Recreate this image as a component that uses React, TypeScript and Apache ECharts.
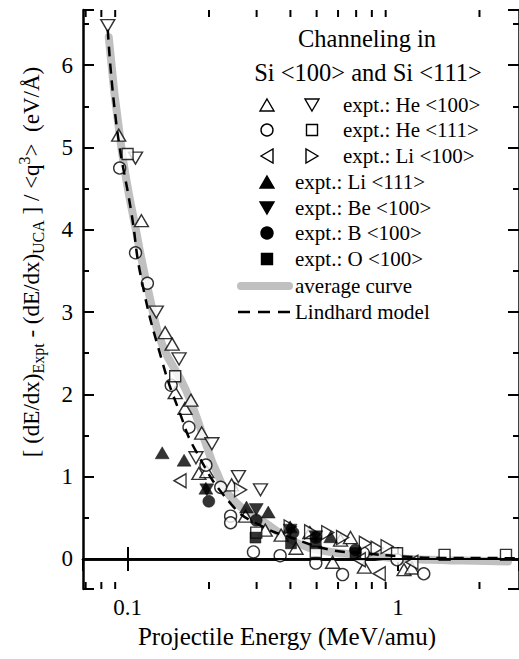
import React, { useEffect, useRef } from 'react';
import * as echarts from 'echarts';

// ---- data (x: MeV/amu, y: eV/Å) ----
const heUp: number[][] = [
  [0.0927, 5.15], [0.1125, 4.11], [0.1377, 2.75], [0.1462, 2.61], [0.150, 2.02],
  [0.163, 1.83], [0.1715, 1.93], [0.188, 1.53], [0.1835, 1.04], [0.1963, 1.06],
  [0.2424, 0.90], [0.2729, 0.52], [0.3228, 0.35], [0.3696, 0.29], [0.4195, 0.13],
  [0.472, 0.32], [0.573, -0.04], [0.613, 0.23], [0.667, 0.26], [0.751, -0.10],
  [1.052, -0.13], [1.125, -0.11],
];
const heDown: number[][] = [
  [0.0845, 6.48], [0.107, 4.87], [0.1277, 3.0], [0.155, 2.43], [0.205, 1.40],
  [0.179, 1.23], [0.257, 1.0], [0.31, 0.84],
];
const he111Circle: number[][] = [
  [0.0935, 4.75], [0.107, 3.72], [0.1184, 3.35], [0.145, 2.11], [0.1687, 1.60],
  [0.1948, 1.14], [0.221, 0.87], [0.2404, 0.52], [0.2404, 0.44], [0.292, 0.085],
  [0.3665, 0.04], [0.4966, -0.05], [0.6235, -0.19], [0.7444, 0.07], [0.9916, -0.01],
  [1.245, -0.18],
];
const he111Square: number[][] = [
  [0.1, 4.92], [0.150, 2.22], [0.299, 0.32], [0.4966, 0.085], [0.9916, 0.07],
  [1.486, 0.05], [2.506, 0.05],
];
const li100Left: number[][] = [
  [0.1563, 0.95], [0.719, -0.01], [0.852, -0.18], [1.125, -0.04],
];
const li100Right: number[][] = [
  [0.2616, 0.84], [0.399, 0.39], [0.475, 0.33], [0.5495, 0.32], [0.6235, 0.26],
  [0.757, 0.19], [0.837, 0.13], [0.911, 0.15],
];
const li111: number[][] = [
  [0.1343, 1.29], [0.1618, 1.20], [0.1948, 0.86], [0.2752, 0.63], [0.3312, 0.57],
  [0.399, 0.39], [0.5636, 0.27],
];
const be100: number[][] = [
  [0.1963, 0.84], [0.299, 0.60], [0.399, 0.35], [0.4966, 0.27],
];
const b100: number[][] = [
  [0.1997, 0.70], [0.299, 0.47], [0.409, 0.32], [0.4966, 0.26], [0.696, 0.11],
];
const o100: number[][] = [
  [0.297, 0.26], [0.402, 0.19], [0.4966, 0.19], [0.696, 0.07],
];
const averageCurve: number[][] = [
  [0.0852, 6.34], [0.0951, 4.97], [0.1079, 3.96], [0.1204, 3.2], [0.1345, 2.6],
  [0.1645, 2.05], [0.1948, 1.40], [0.2118, 1.08], [0.2424, 0.74], [0.3228, 0.44],
  [0.4266, 0.19], [0.5636, 0.085], [0.751, 0.05], [0.9916, 0.01], [1.31, -0.01],
  [1.745, -0.02], [2.55, -0.03],
];
const lindhard: number[][] = [
  [0.0845, 6.43], [0.0912, 5.25], [0.1034, 4.20], [0.1125, 3.40], [0.1343, 2.40],
  [0.155, 1.80], [0.179, 1.31], [0.2424, 0.66], [0.3045, 0.42], [0.4266, 0.23],
  [0.5636, 0.11], [0.751, 0.07], [0.9916, 0.035], [1.512, 0.012], [2.8, 0.01],
];
const xMinorTicks = [0.07, 0.08, 0.09, 0.2, 0.3, 0.4, 0.5, 0.6, 0.7, 0.8, 0.9, 2];
const X_MIN = 0.06843;
const X_MAX = 2.8;
const Y_MIN = -0.365;
const Y_MAX = 6.67;

const FONT = 'Liberation Serif, Times New Roman, serif';

export default function App() {
  const ref = useRef<HTMLDivElement>(null);
  useEffect(() => {
    if (!ref.current) return;
    const chart = echarts.init(ref.current, undefined, { renderer: 'svg' });

    const openStyle = { color: '#fff', borderColor: '#000', borderWidth: 1.4 };
    const filledStyle = { color: '#000', borderColor: '#000', borderWidth: 0.5 };
    const scatter = (name: string, data: number[][], symbol: string, size: any, rot: number, style: any, z: number) => ({
      type: 'scatter', name, data, symbol, symbolSize: size, symbolRotate: rot,
      itemStyle: style, z, silent: true,
    });

    const axisCommon = {
      axisLine: { show: true, lineStyle: { color: '#000', width: 2.5 } },
      splitLine: { show: false },
    };

    // legend graphics
    const g: any[] = [];
    const txt = (x: number, y: number, text: string, size: number, align = 'left') => ({
      type: 'text', x, y, silent: true,
      style: { text, fontSize: size, fontFamily: FONT, fill: '#000', align, verticalAlign: 'middle' },
    });
    const tri = (cx: number, cy: number, dir: string, filled: boolean) => {
      const w = 14, h = 12;
      let pts: number[][];
      if (dir === 'up') pts = [[cx, cy - h / 2], [cx + w / 2, cy + h / 2], [cx - w / 2, cy + h / 2]];
      else if (dir === 'down') pts = [[cx, cy + h / 2], [cx + w / 2, cy - h / 2], [cx - w / 2, cy - h / 2]];
      else if (dir === 'left') pts = [[cx - h / 2, cy], [cx + h / 2, cy - w / 2], [cx + h / 2, cy + w / 2]];
      else pts = [[cx + h / 2, cy], [cx - h / 2, cy - w / 2], [cx - h / 2, cy + w / 2]];
      return { type: 'polygon', shape: { points: pts }, silent: true,
        style: { fill: filled ? '#000' : '#fff', stroke: '#000', lineWidth: 1.4 } };
    };
    const circ = (cx: number, cy: number, filled: boolean) => ({
      type: 'circle', shape: { cx, cy, r: 6 }, silent: true,
      style: { fill: filled ? '#000' : '#fff', stroke: '#000', lineWidth: 1.4 } });
    const sq = (cx: number, cy: number, filled: boolean) => ({
      type: 'rect', shape: { x: cx - 5.5, y: cy - 5.5, width: 11, height: 11 }, silent: true,
      style: { fill: filled ? '#000' : '#fff', stroke: '#000', lineWidth: 1.4 } });

    const rows = [105, 130, 156, 182, 208, 233, 259, 286, 312];
    const c1 = 267, c2 = 312, tx1 = 343, tx2 = 295, LS = 21;
    g.push(txt(367, 38, 'Channeling in', 24.5, 'center'));
    g.push(txt(368, 72, 'Si <100> and Si <111>', 24.5, 'center'));
    g.push(tri(c1, rows[0], 'up', false), tri(c2, rows[0], 'down', false), txt(tx1, rows[0], 'expt.: He <100>', LS));
    g.push(circ(c1, rows[1], false), sq(c2, rows[1], false), txt(tx1, rows[1], 'expt.: He <111>', LS));
    g.push(tri(c1, rows[2], 'left', false), tri(c2, rows[2], 'right', false), txt(tx1, rows[2], 'expt.: Li <100>', LS));
    g.push(tri(c1, rows[3], 'up', true), txt(tx2, rows[3], 'expt.: Li <111>', LS));
    g.push(tri(c1, rows[4], 'down', true), txt(tx2, rows[4], 'expt.: Be <100>', LS));
    g.push(circ(c1, rows[5], true), txt(tx2, rows[5], 'expt.: B <100>', LS));
    g.push(sq(c1, rows[6], true), txt(tx2, rows[6], 'expt.: O <100>', LS));
    g.push({ type: 'line', silent: true, shape: { x1: 241, y1: rows[7], x2: 289, y2: rows[7] },
      style: { stroke: '#c0c0c0', lineWidth: 8, lineCap: 'round' } });
    g.push(txt(tx2, rows[7], 'average curve', LS));
    g.push({ type: 'line', silent: true, shape: { x1: 238, y1: rows[8], x2: 291, y2: rows[8] },
      style: { stroke: '#000', lineWidth: 2.5, lineDash: [12, 8] } });
    g.push(txt(tx2, rows[8], 'Lindhard model', LS));

    // y axis title
    g.push({
      type: 'text', x: 31, y: 262, rotation: Math.PI / 2, silent: true,
      style: {
        text: '{a|[ (dE/dx)}{s|Expt}{a| - (dE/dx)}{s|UCA}{a| ] / <q}{p|3}{a|>  (eV/Å)}',
        align: 'center', verticalAlign: 'middle', fontFamily: FONT, fill: '#000',
        rich: {
          a: { fontSize: 23, fontFamily: FONT, fill: '#000', lineHeight: 30, verticalAlign: 'middle' },
          s: { fontSize: 16, fontFamily: FONT, fill: '#000', lineHeight: 14, verticalAlign: 'bottom' },
          p: { fontSize: 16, fontFamily: FONT, fill: '#000', lineHeight: 14, verticalAlign: 'top' },
        },
      },
    });

    const tickRender = (params: any, api: any) => {
      const v = api.value(0);
      const b = api.coord([v, Y_MIN]);
      const t = api.coord([v, Y_MAX]);
      const st = { stroke: '#000', lineWidth: 2 };
      return { type: 'group', children: [
        { type: 'line', shape: { x1: b[0], y1: b[1], x2: b[0], y2: b[1] - 7 }, style: st },
        { type: 'line', shape: { x1: t[0], y1: t[1], x2: t[0], y2: t[1] + 7 }, style: st },
      ] };
    };

    const option: any = {
      animation: false,
      backgroundColor: '#fff',
      textStyle: { fontFamily: FONT },
      grid: { left: 83, top: 10, width: 440, height: 579, containLabel: false },
      xAxis: [
        {
          type: 'log', min: X_MIN, max: X_MAX, position: 'bottom', ...axisCommon,
          axisTick: { show: true, inside: true, length: 12, lineStyle: { color: '#000', width: 2 } },
          axisLabel: { show: true, fontSize: 23, fontFamily: FONT, color: '#000', margin: 7,
            showMinLabel: false, showMaxLabel: false },
          name: 'Projectile Energy (MeV/amu)', nameLocation: 'middle', nameGap: 35,
          nameTextStyle: { fontSize: 25, fontFamily: FONT, color: '#000', padding: [0, 28, 0, 0] },
        },
        {
          type: 'log', min: X_MIN, max: X_MAX, position: 'top', ...axisCommon,
          axisTick: { show: true, inside: true, length: 12, lineStyle: { color: '#000', width: 2 } },
          axisLabel: { show: false },
        },
      ],
      yAxis: [
        {
          type: 'value', min: Y_MIN, max: Y_MAX, position: 'left', ...axisCommon,
          axisTick: { show: true, inside: true, length: 11, lineStyle: { color: '#000', width: 2 } },
          minorTick: { show: true, splitNumber: 2, length: 6, lineStyle: { color: '#000', width: 2 } },
          minorSplitLine: { show: false },
          axisLabel: { show: true, fontSize: 23, fontFamily: FONT, color: '#000', margin: 10,
            showMinLabel: false, showMaxLabel: false },
        },
        {
          type: 'value', min: Y_MIN, max: Y_MAX, position: 'right', ...axisCommon,
          axisTick: { show: true, inside: true, length: 11, lineStyle: { color: '#000', width: 2 } },
          minorTick: { show: true, splitNumber: 2, length: 6, lineStyle: { color: '#000', width: 2 } },
          minorSplitLine: { show: false },
          axisLabel: { show: false },
        },
      ],
      graphic: g,
      series: [
        {
          type: 'line', name: 'average curve', data: averageCurve, smooth: 0.5, showSymbol: false,
          lineStyle: { color: '#c0c0c0', width: 8, cap: 'round', join: 'round' }, z: 1, silent: true,
          markLine: {
            silent: true, symbol: 'none', label: { show: false },
            lineStyle: { color: '#000', width: 2, type: 'solid' },
            data: [{ yAxis: 0 }],
          },
        },
        scatter('He <100> a', heUp, 'triangle', [14, 12], 0, openStyle, 3),
        scatter('He <100> b', heDown, 'triangle', [14, 12], 180, openStyle, 3),
        scatter('He <111> a', he111Circle, 'circle', 12, 0, openStyle, 3),
        scatter('He <111> b', he111Square, 'rect', 11, 0, openStyle, 3),
        scatter('Li <100> a', li100Left, 'triangle', [14, 12], 90, openStyle, 3),
        scatter('Li <100> b', li100Right, 'triangle', [14, 12], -90, openStyle, 3),
        {
          type: 'line', name: 'Lindhard model', data: lindhard, smooth: 0.5, showSymbol: false,
          lineStyle: { color: '#000', width: 2.5, type: [10, 7] }, z: 4, silent: true,
        },
        scatter('Li <111>', li111, 'triangle', [14, 12], 0, filledStyle, 5),
        scatter('Be <100>', be100, 'triangle', [14, 12], 180, filledStyle, 5),
        scatter('B <100>', b100, 'circle', 12, 0, filledStyle, 5),
        scatter('O <100>', o100, 'rect', 11, 0, filledStyle, 5),
        {
          type: 'custom', name: 'minor ticks', data: xMinorTicks.map((v) => [v, 0]),
          renderItem: tickRender, clip: false, silent: true, z: 6,
        },
      ],
    };
    chart.setOption(option);
    return () => chart.dispose();
  }, []);
  return (
    <div ref={ref} style={{ position: 'absolute', left: 0, top: 0, width: 519, height: 659, background: '#fff' }} />
  );
}
